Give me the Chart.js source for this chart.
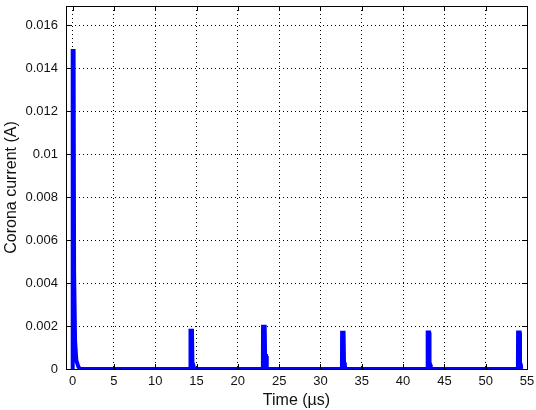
<!DOCTYPE html>
<html>
<head>
<meta charset="utf-8">
<script src="https://cdn.jsdelivr.net/npm/chart.js@4"></script>
<style>
  html, body { margin: 0; padding: 0; background: #fff; }
  #wrap { width: 536px; height: 410px; }
</style>
</head>
<body>
<div id="wrap"><canvas id="coronaChart"></canvas></div>
<script>
// time in microseconds, current in amperes
const timeUs = [
    0, 0.01, 0.12, 0.18, 0.24, 0.3, 0.45, 0.7, 0.9,
    14.25, 14.27, 14.45, 14.5, 14.6, 14.7,
    23.03, 23.05, 23.25, 23.3, 23.42, 23.5,
    32.6, 32.62, 32.8, 32.85, 32.95, 33.0,
    42.96, 42.98, 43.15, 43.2, 43.3, 43.35,
    53.9, 53.92, 54.1, 54.15, 54.25, 54.3
];
const currentA = [
    0, 0.0148, 0.0148, 0.0045, 0.0045, 0.0013, 0.0004, 0.0001, 0,
    0, 0.00178, 0.00178, 0.0003, 0.0002, 0,
    0, 0.00197, 0.00197, 0.0006, 0.0006, 0,
    0, 0.00169, 0.00169, 0.0003, 0.0002, 0,
    0, 0.0017, 0.0017, 0.0003, 0.0002, 0,
    0, 0.0017, 0.0017, 0.0003, 0.0002, 0
];
const xTicks = [0, 5, 10, 15, 20, 25, 30, 35, 40, 45, 50, 55];
const yTicks = [0, 0.002, 0.004, 0.006, 0.008, 0.01, 0.012, 0.014, 0.016];
const yTickLabels = ['0', '0.002', '0.004', '0.006', '0.008', '0.01', '0.012', '0.014', '0.016'];

const fontFamily = '"Liberation Sans", Arial, sans-serif';
const tickFont = { family: fontFamily, size: 13 };
const titleFont = { family: fontFamily, size: 16 };

// matlab style box with inward ticks on all four sides
const axesBox = {
    id: 'axesBox',
    afterDraw(chart) {
        const ctx = chart.ctx;
        const a = chart.chartArea;
        const xs = chart.scales.x, ys = chart.scales.y;
        ctx.save();
        ctx.strokeStyle = '#000';
        ctx.lineWidth = 1;
        ctx.strokeRect(Math.round(a.left) + 0.5, Math.round(a.top) + 0.5,
            Math.round(a.right - a.left), Math.round(a.bottom - a.top));
        ctx.beginPath();
        xTicks.forEach(v => {
            const px = Math.round(xs.getPixelForValue(v)) + 0.5;
            ctx.moveTo(px, a.bottom); ctx.lineTo(px, a.bottom - 5);
            ctx.moveTo(px, a.top); ctx.lineTo(px, a.top + 5);
        });
        yTicks.forEach(v => {
            const py = Math.round(ys.getPixelForValue(v)) + 0.5;
            ctx.moveTo(a.left, py); ctx.lineTo(a.left + 5, py);
            ctx.moveTo(a.right, py); ctx.lineTo(a.right - 5, py);
        });
        ctx.stroke();
        ctx.restore();
    }
};

new Chart(document.getElementById('coronaChart'), {
    type: 'line',
    data: {
        datasets: [{
            data: timeUs.map((t, i) => ({ x: t, y: currentA[i] })),
            borderColor: '#0000ff',
            borderWidth: 4,
            borderJoinStyle: 'miter',
            pointRadius: 0,
            tension: 0,
            fill: false
        }]
    },
    options: {
        responsive: true,
        maintainAspectRatio: false,
        animation: false,
        layout: { padding: { top: 6, right: 9, left: 0, bottom: 0 } },
        plugins: { legend: { display: false }, tooltip: { enabled: false } },
        scales: {
            x: {
                type: 'linear',
                min: -0.8,
                max: 55,
                afterBuildTicks: s => { s.ticks = xTicks.map(v => ({ value: v })); },
                afterFit: s => { s.height = 41; s.paddingLeft = 0; s.paddingRight = 0; },
                grid: { color: '#000', lineWidth: 1, drawTicks: false },
                border: { display: true, color: '#000', dash: [1, 3] },
                ticks: { color: '#111', font: tickFont, padding: 5, maxRotation: 0 },
                title: {
                    display: true,
                    text: 'Time (\u00b5s)',
                    color: '#111',
                    font: titleFont,
                    padding: { top: 0, bottom: 0 }
                }
            },
            y: {
                type: 'linear',
                min: 0,
                max: 0.0169,
                afterBuildTicks: s => { s.ticks = yTicks.map(v => ({ value: v })); },
                afterFit: s => { s.width = 66; s.paddingTop = 0; s.paddingBottom = 0; },
                grid: { color: '#000', lineWidth: 1, drawTicks: false },
                border: { display: true, color: '#000', dash: [1, 3] },
                ticks: {
                    color: '#111',
                    font: tickFont,
                    padding: 8,
                    callback: (v, i) => yTickLabels[i]
                },
                title: {
                    display: true,
                    text: 'Corona current (A)',
                    color: '#111',
                    font: titleFont,
                    padding: { top: 2, bottom: 0 }
                }
            }
        }
    },
    plugins: [axesBox]
});
</script>
</body>
</html>
